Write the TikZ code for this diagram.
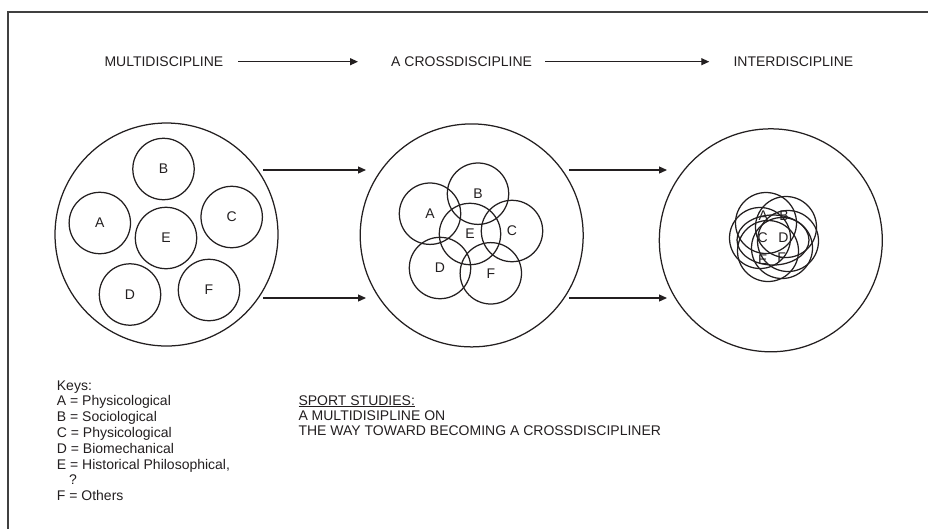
\documentclass[tikz,border=0pt]{standalone}
\usepackage{fontspec}
\setmainfont{Liberation Sans}
\usetikzlibrary{arrows.meta}
\definecolor{ink}{HTML}{231F20}
\begin{document}
\begin{tikzpicture}[x=1pt,y=-1pt,
  txt/.style={font=\fontsize{14}{16}\selectfont, inner sep=0pt, text=ink},
  big/.style={draw=ink, line width=1.25pt},
  sub/.style={circle, draw=ink, line width=1.25pt, minimum size=61.4pt, inner sep=0pt, font=\fontsize{14}{16}\selectfont, text=ink},
  link/.style={draw=ink, line width=1.2pt, -{Triangle[length=8pt,width=7pt]}},
  frame/.style={draw=black!75, line width=1.4pt}]
\useasboundingbox (0,0) rectangle (928,528);
% frame (cropped: only top and left edges visible)
\coordinate (ftl) at (8,12);
\coordinate (ftr) at (930,12);
\coordinate (fbl) at (8,530);
\draw[frame] (ftr) -- (ftl) -- (fbl);

% header
\node[txt, anchor=west] (h1) at (104.3,61.7) {MULTIDISCIPLINE};
\node[txt, anchor=west] (h2) at (391,61.7) {A CROSSDISCIPLINE};
\node[txt, anchor=west] (h3) at (733.3,61.7) {INTERDISCIPLINE};
\draw[link] ([xshift=15pt]h1.east) -- ([xshift=-33pt]h2.west);
\draw[link] ([xshift=13pt]h2.east) -- ([xshift=-24pt]h3.west);

% big circles
\draw[big] (166.5,234.5) circle[radius=111.5];
\draw[big] (471.7,235.4) circle[radius=111.5];
\draw[big] (770.8,240.3) circle[radius=111.5];

% left: separate disciplines
\node[sub] (lB) at (163.5,169) {B};
\node[sub] (lA) at (99.8,223) {A};
\node[sub] (lE) at (166,238) {E};
\node[sub] (lC) at (231.7,217) {C};
\node[sub] (lD) at (130,294.5) {D};
\node[sub] (lF) at (209,290) {F};

% middle: overlapping
\node[sub] (mA) at (430,213.7) {A};
\node[sub] (mB) at (478,193.7) {B};
\node[sub] (mC) at (512,231) {C};
\node[sub] (mE) at (470,234) {E};
\node[sub] (mD) at (440,268) {D};
\node[sub] (mF) at (490.8,273.3) {F};

% right: merged
\foreach \p in {(766,223),(786,227),(760,238),(788,241),(768,251),(782,248)}
  \draw[big] \p circle[radius=30.5];
\draw[big] (773,240) ellipse[x radius=36, y radius=25];
\node[txt] (rA) at (763.3,216) {A};
\node[txt] (rB) at (784,216) {B};
\node[txt] (rC) at (762.7,237.3) {C};
\node[txt] (rD) at (783.3,237.3) {D};
\node[txt] (rE) at (762.7,260) {E};
\node[txt] (rF) at (781.7,258) {F};

% connectors between panels
\coordinate (a1s) at (263,170);
\coordinate (a1e) at (366,170);
\coordinate (a2s) at (263,298);
\coordinate (a2e) at (366,298);
\coordinate (a3s) at (569,170);
\coordinate (a3e) at (667,170);
\coordinate (a4s) at (569,298);
\coordinate (a4e) at (667,298);
\draw[link] (a1s) -- (a1e);
\draw[link] (a2s) -- (a2e);
\draw[link] (a3s) -- (a3e);
\draw[link] (a4s) -- (a4e);

% keys
\node[txt, anchor=base west] (k0) at (56.7,390) {Keys:};
\node[txt, anchor=base west] (k1) at (56.7,405.5) {A = Physicological};
\node[txt, anchor=base west] (k2) at (56.7,421) {B = Sociological};
\node[txt, anchor=base west] (k3) at (56.7,437) {C = Physicological};
\node[txt, anchor=base west] (k4) at (56.7,453) {D = Biomechanical};
\node[txt, anchor=base west] (k5) at (56.7,469) {E = Historical Philosophical,};
\node[txt, anchor=base west] (k6) at (69,484.5) {?};
\node[txt, anchor=base west] (k7) at (56.7,500) {F = Others};

% sport studies
\node[txt, anchor=base west] (s0) at (298.3,405) {\underline{SPORT STUDIES:}};
\node[txt, anchor=base west] (s1) at (298.3,420) {A MULTIDISIPLINE ON};
\node[txt, anchor=base west] (s2) at (298.3,435) {THE WAY TOWARD BECOMING A CROSSDISCIPLINER};
\end{tikzpicture}
\end{document}
